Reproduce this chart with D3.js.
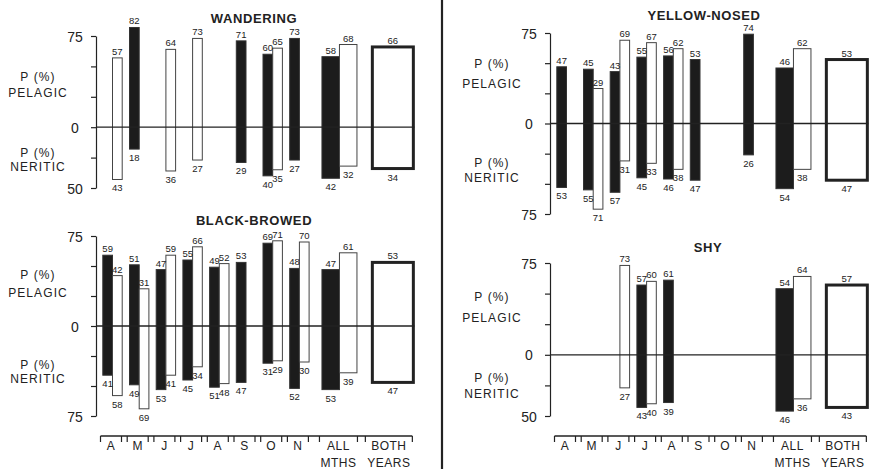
<!DOCTYPE html>
<html>
<head>
<meta charset="utf-8">
<script src="https://cdn.jsdelivr.net/npm/d3@7"></script>
<style>
  body { margin: 0; background: #fff; }
  svg { display: block; }
  text { font-family: "Liberation Sans", Arial, sans-serif; fill: #222; }
</style>
</head>
<body>
<svg id="chart" width="869" height="469"></svg>
<script>
// ---------------- DATA ----------------
const monthLabels = ["A", "M", "J", "J", "A", "S", "O", "N"];
const summaryLabels = [["ALL", "MTHS"], ["BOTH", "YEARS"]];

// index 0..7 = months A..N, index 8 = ALL MTHS ; null = no bar
const wanderingBlackPel = [null, 82, null, null, null, 71, 60, 73, 58];
const wanderingBlackNer = [null, 18, null, null, null, 29, 40, 27, 42];
const wanderingWhitePel = [57, null, 64, 73, null, null, 65, null, 68];
const wanderingWhiteNer = [43, null, 36, 27, null, null, 35, null, 32];
const wanderingBoth = [66, 34];

const blackBrowedBlackPel = [59, 51, 47, 55, 49, 53, 69, 48, 47];
const blackBrowedBlackNer = [41, 49, 53, 45, 51, 47, 31, 52, 53];
const blackBrowedWhitePel = [42, 31, 59, 66, 52, null, 71, 70, 61];
const blackBrowedWhiteNer = [58, 69, 41, 34, 48, null, 29, 30, 39];
const blackBrowedBoth = [53, 47];

const yellowNosedBlackPel = [47, 45, 43, 55, 56, 53, null, 74, 46];
const yellowNosedBlackNer = [53, 55, 57, 45, 46, 47, null, 26, 54];
const yellowNosedWhitePel = [null, 29, 69, 67, 62, null, null, null, 62];
const yellowNosedWhiteNer = [null, 71, 31, 33, 38, null, null, null, 38];
const yellowNosedBoth = [53, 47];

const shyBlackPel = [null, null, null, 57, 61, null, null, null, 54];
const shyBlackNer = [null, null, null, 43, 39, null, null, null, 46];
const shyWhitePel = [null, null, 73, 60, null, null, null, null, 64];
const shyWhiteNer = [null, null, 27, 40, null, null, null, null, 36];
const shyBoth = [57, 43];

const wanderingTicks = [75, 50, 25, 0, -25, -50];
const wanderingTickLabels = ["75", "", "", "0", "", "50"];
const fullTicks = [75, 50, 25, 0, -25, -50, -75];
const fullTickLabels = ["75", "", "", "0", "", "", "75"];

// ---------------- LAYOUT ----------------
const svg = d3.select("#chart");
const INK = "#222";

const panels = [
  { title: "WANDERING", colX: 0, yDomain: [-50, 75], yRange: [188, 36], titleX: 254, titleY: 23,
    ticks: wanderingTicks, tickLabels: wanderingTickLabels,
    bp: wanderingBlackPel, bn: wanderingBlackNer, wp: wanderingWhitePel, wn: wanderingWhiteNer, both: wanderingBoth,
    lab: [-51, -35, 25, 39] },
  { title: "BLACK-BROWED", colX: 0, yDomain: [-75, 75], yRange: [416, 236], titleX: 254, titleY: 225,
    ticks: fullTicks, tickLabels: fullTickLabels,
    bp: blackBrowedBlackPel, bn: blackBrowedBlackNer, wp: blackBrowedWhitePel, wn: blackBrowedWhiteNer, both: blackBrowedBoth,
    lab: [-51, -33, 39, 53] },
  { title: "YELLOW-NOSED", colX: 454, yDomain: [-75, 75], yRange: [214, 33], titleX: 704, titleY: 19.5,
    ticks: fullTicks, tickLabels: fullTickLabels,
    bp: yellowNosedBlackPel, bn: yellowNosedBlackNer, wp: yellowNosedWhitePel, wn: yellowNosedWhiteNer, both: yellowNosedBoth,
    lab: [-60, -40, 39, 54] },
  { title: "SHY", colX: 454, yDomain: [-50, 75], yRange: [416, 263], titleX: 708, titleY: 252,
    ticks: wanderingTicks, tickLabels: wanderingTickLabels,
    bp: shyBlackPel, bn: shyBlackNer, wp: shyWhitePel, wn: shyWhiteNer, both: shyBoth,
    lab: [-58, -37, 23, 39] }
];

// slot position of each category (months 0..7, ALL 8.5, BOTH 10.5)
const slotOf = d3.scaleOrdinal().domain(d3.range(10)).range([0, 1, 2, 3, 4, 5, 6, 7, 8.5, 10.5]);
const monthBarW = 9.7, allBarW = 17.5, bothW = 41;

// divider
svg.append("line").attr("x1", 442).attr("x2", 442).attr("y1", 0).attr("y2", 469)
  .attr("stroke", INK).attr("stroke-width", 2.2);

panels.forEach(p => {
  const axisX = 96 + p.colX;
  const x = d3.scaleLinear().domain([0, 1]).range([112.5 + p.colX, 139.2 + p.colX]);
  const y = d3.scaleLinear().domain(p.yDomain).range(p.yRange);
  const g = svg.append("g");

  // title
  g.append("text").attr("x", p.titleX).attr("y", p.titleY).attr("text-anchor", "middle")
    .style("font-size", "13px").style("font-weight", "bold").style("letter-spacing", "0.6px").text(p.title);

  // y axis
  const ax = d3.axisLeft(y).tickValues(p.ticks).tickSize(5).tickSizeOuter(0)
    .tickFormat((d, i) => p.tickLabels[i]);
  const axg = g.append("g").attr("transform", `translate(${axisX},0)`).call(ax);
  axg.select(".domain").attr("stroke", INK).attr("stroke-width", 1.2);
  axg.selectAll(".tick line").attr("stroke", INK).attr("stroke-width", 1.2);
  axg.selectAll(".tick text").attr("x", -21).attr("text-anchor", "middle").attr("dy", "0.36em")
    .style("font-size", "14px").style("font-family", "'Liberation Sans', Arial, sans-serif").attr("fill", INK);

  // side labels
  const y0 = y(0), lx = axisX - 58;
  [["P (%)", p.lab[0]], ["PELAGIC", p.lab[1]], ["P (%)", p.lab[2]], ["NERITIC", p.lab[3]]].forEach(([t, dy]) => {
    g.append("text").attr("x", lx).attr("y", y0 + dy).attr("dy", "0.36em").attr("text-anchor", "middle")
      .style("font-size", "12px").style("letter-spacing", "1.1px").text(t);
  });

  // bars
  const bars = [];
  for (let i = 0; i < 9; i++) {
    const c = x(slotOf(i));
    const w = i === 8 ? allBarW : monthBarW;
    if (p.bp[i] != null) bars.push({ x0: c - w, w, pel: p.bp[i], ner: p.bn[i], black: true });
    if (p.wp[i] != null) bars.push({ x0: c, w, pel: p.wp[i], ner: p.wn[i], black: false });
  }
  g.selectAll("rect.bar").data(bars).join("rect").attr("class", "bar")
    .attr("x", d => d.x0).attr("width", d => d.w)
    .attr("y", d => y(d.pel)).attr("height", d => y(-d.ner) - y(d.pel))
    .attr("fill", d => d.black ? "#1c1c1c" : "#fff")
    .attr("stroke", d => d.black ? "#333" : "#444").attr("stroke-width", 1);

  // both years box
  const bc = x(slotOf(9));
  g.append("rect").attr("x", bc - bothW / 2).attr("width", bothW)
    .attr("y", y(p.both[0])).attr("height", y(-p.both[1]) - y(p.both[0]))
    .attr("fill", "#fff").attr("stroke", INK).attr("stroke-width", 3);

  // zero line
  g.append("line").attr("x1", axisX).attr("x2", bc + bothW / 2 + 1).attr("y1", y0).attr("y2", y0)
    .attr("stroke", INK).attr("stroke-width", 1.3);

  // value labels
  const labels = bars.map(d => ({ cx: d.x0 + d.w / 2, pel: d.pel, ner: d.ner }));
  labels.push({ cx: bc, pel: p.both[0], ner: p.both[1] });
  labels.forEach(d => {
    g.append("text").attr("x", d.cx).attr("y", y(d.pel) - 3).attr("text-anchor", "middle")
      .style("font-size", "9.5px").text(d.pel);
    g.append("text").attr("x", d.cx).attr("y", y(-d.ner) + 12).attr("text-anchor", "middle")
      .style("font-size", "9.5px").text(d.ner);
  });
});

// bottom category axes (one per column)
[0, 454].forEach(colX => {
  const x = d3.scaleLinear().domain([0, 1]).range([112.5 + colX, 139.2 + colX]);
  const axY = 436;
  const segs = [];
  monthLabels.forEach((m, i) => segs.push({ c: x(slotOf(i)) - 1.5, h: 10.5, lines: [m] }));
  segs.push({ c: x(slotOf(8)) - 1, h: 19, lines: summaryLabels[0] });
  segs.push({ c: x(slotOf(9)) - 4, h: 23.5, lines: summaryLabels[1] });
  const g = svg.append("g");
  g.append("line").attr("x1", segs[0].c - segs[0].h).attr("x2", segs[9].c + segs[9].h)
    .attr("y1", axY).attr("y2", axY).attr("stroke", INK).attr("stroke-width", 1.3);
  segs.forEach(s => {
    [s.c - s.h, s.c + s.h].forEach(tx => {
      g.append("line").attr("x1", tx).attr("x2", tx).attr("y1", axY).attr("y2", axY + 6)
        .attr("stroke", INK).attr("stroke-width", 1.2);
    });
    s.lines.forEach((t, k) => {
      g.append("text").attr("x", s.c).attr("y", axY + 14 + k * 17).attr("text-anchor", "middle")
        .style("font-size", "12px").style("letter-spacing", "0.5px").text(t);
    });
  });
});
</script>
</body>
</html>
